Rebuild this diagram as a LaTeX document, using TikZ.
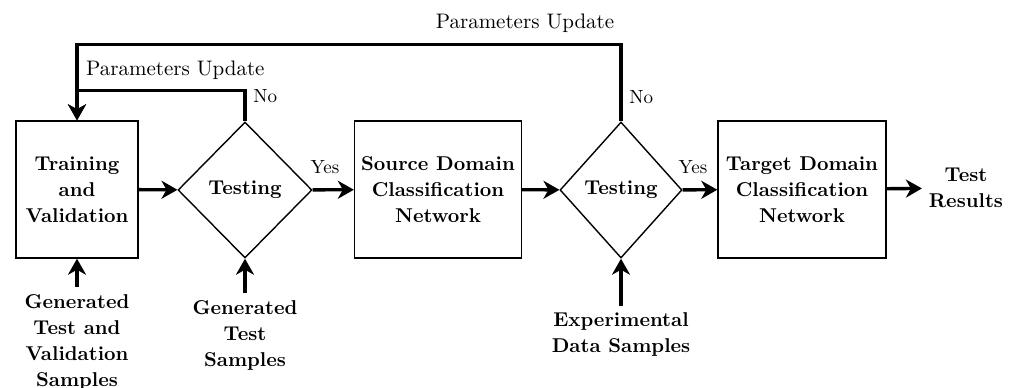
\documentclass[tikz,border=0pt]{standalone}
\usetikzlibrary{shapes.geometric,arrows.meta}
\tikzset{
  block/.style={draw,line width=0.7pt,minimum width=#1,minimum height=68.5pt,
    align=center,font=\bfseries\fontsize{10}{13}\selectfont},
  decision/.style={draw,diamond,line width=0.7pt,inner sep=0pt,
    minimum width=#1,minimum height=68pt,font=\bfseries\fontsize{10}{13}\selectfont},
  source/.style={align=center,font=\bfseries\fontsize{10}{13}\selectfont},
  note/.style={font=\fontsize{10.5}{12}\selectfont},
  tag/.style={font=\fontsize{9.5}{11}\selectfont},
  flow/.style={line width=1.7pt,-{Stealth[length=8pt,width=9pt,inset=2.5pt]}}
}

\begin{document}
\begin{tikzpicture}[x=0.5pt,y=-0.5pt]
  \useasboundingbox (0,0) rectangle (1013,387);
  % main row
  \node[block=61pt] (train) at (77,189.5) {Training\\and\\Validation};
  \node[decision=67pt] (test1) at (245,190) {Testing};
  \node[block=81pt] (source) at (438,189.5) {Source Domain\\Classification\\Network};
  \node[decision=61pt] (test2) at (621,190) {Testing};
  \node[block=84pt] (target) at (802,189.5) {Target Domain\\Classification\\Network};
  \node[source] (result) at (966,188) {Test\\Results};
  % inputs
  \node[source,anchor=north] (gen1) at (77,287) {Generated\\Test and\\Validation\\Samples};
  \node[source,anchor=north] (gen2) at (245,293) {Generated\\Test\\Samples};
  \node[source,anchor=north] (expdata) at (621,306) {Experimental\\Data Samples};
  % update labels
  \node[note,anchor=west] (upd1) at (79,70) {Parameters Update};
  \node[note] (upd2) at (525,23) {Parameters Update};

  \draw[flow] (train) -- (test1);
  \draw[flow] (test1) -- node[tag,above=4pt,pos=0.3] {Yes} (source);
  \draw[flow] (source) -- (test2);
  \draw[flow] (test2) -- node[tag,above=4pt,pos=0.3] {Yes} (target);
  \draw[flow] (target) -- (result);
  \draw[flow] (gen1.north) -- (train.south);
  \draw[flow] (gen2.north) -- (test1.south);
  \draw[flow] (expdata.north) -- (test2.south);
  % feedback
  \draw[flow] (test1.north) -- ++(0,-31) node[tag,right,pos=0.8] {No} -| (train.north);
  \draw[flow] (test2.north) -- ++(0,-77) node[tag,right,pos=0.31] {No} -| (train.north);
\end{tikzpicture}
\end{document}
